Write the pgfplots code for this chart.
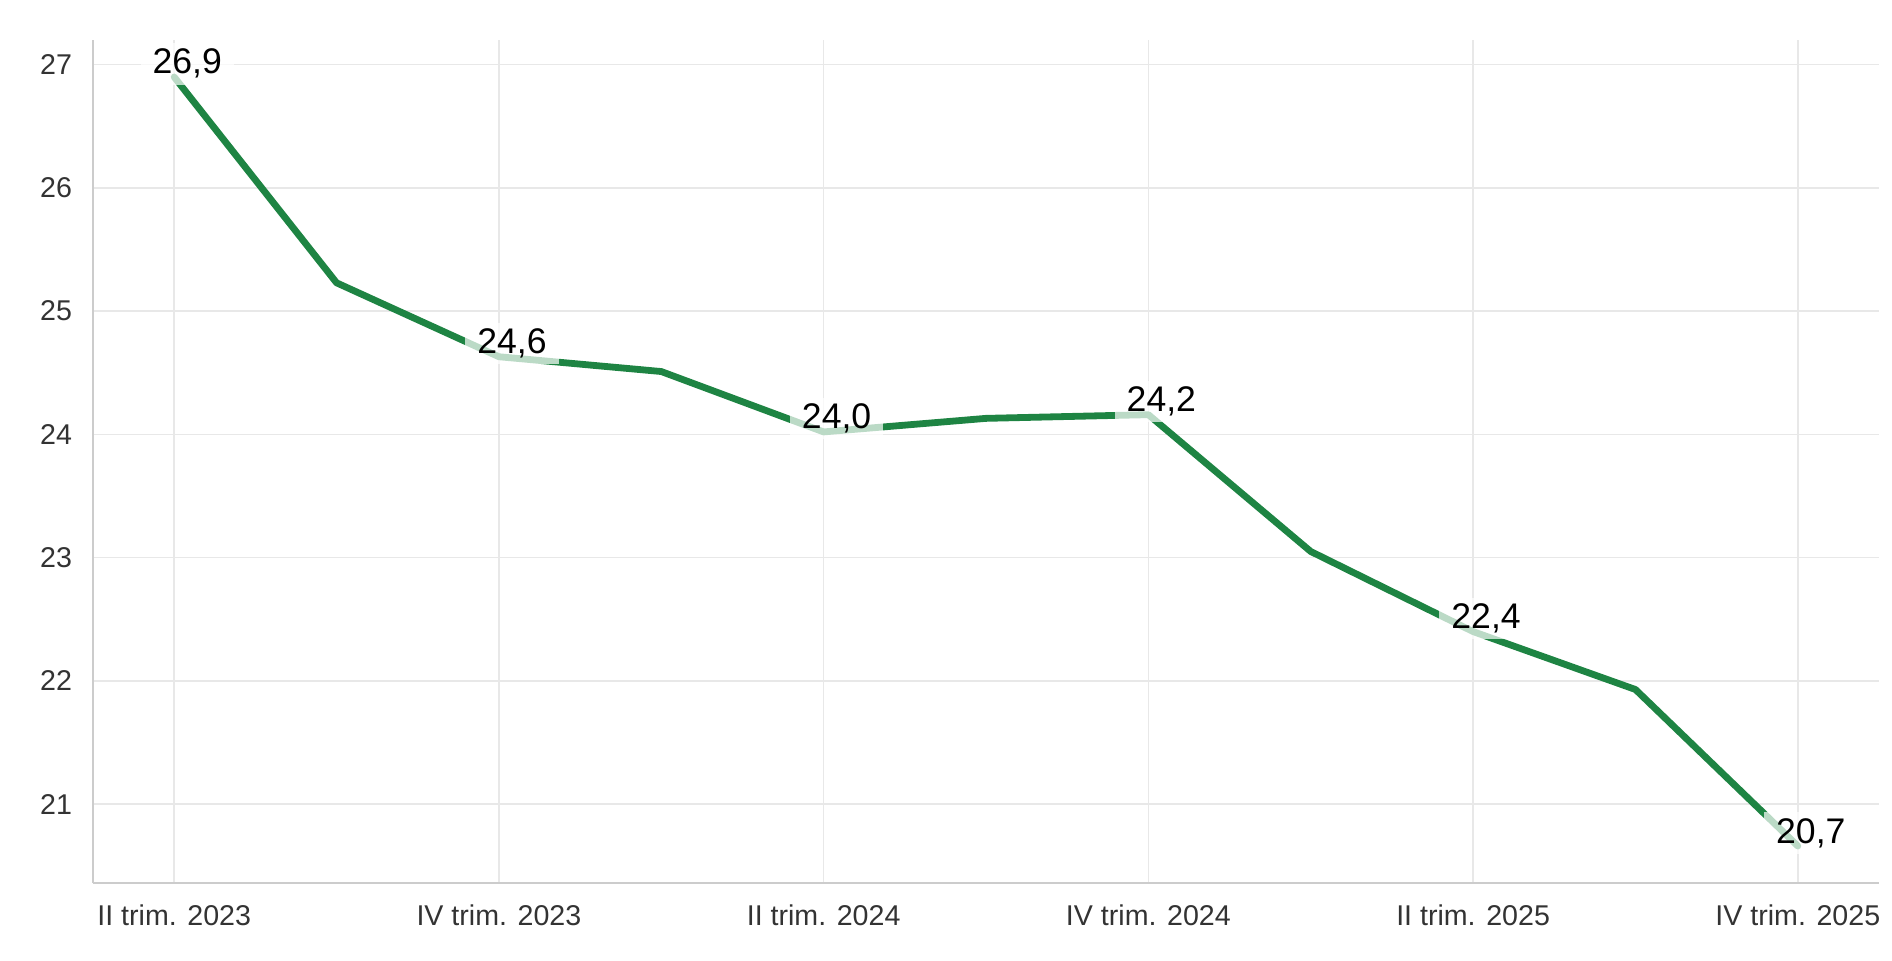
\documentclass[border=0pt]{standalone}
\usepackage{pgfplots}
\pgfplotsset{compat=1.18}
\usepackage{pgfplotstable}
\usepackage{fontspec}
\setmainfont{Liberation Sans}
\definecolor{lineg}{HTML}{1E8443}
\definecolor{gridc}{HTML}{E8E8E8}
\definecolor{axc}{HTML}{CCCCCC}
\definecolor{tickc}{HTML}{333333}

\pgfplotstableread{
x y
0 26.9
1 25.23
2 24.63
3 24.51
4 24.02
5 24.13
6 24.16
7 23.05
8 22.40
9 21.93
10 20.66
}\alldata

\pgfplotstableread{
x y lab
0 26.9 {26,9}
2 24.63 {24,6}
4 24.02 {24,0}
6 24.16 {24,2}
8 22.40 {22,4}
10 20.66 {20,7}
}\labdata

\begin{document}
\begin{tikzpicture}
\begin{axis}[
  name=ax,
  scale only axis,
  width=893pt, height=421.5pt,
  xmin=-0.5, xmax=10.5,
  ymin=20.36, ymax=27.2,
  xtick={0,2,...,10},
  xticklabels={II trim. 2023, IV trim. 2023, II trim. 2024, IV trim. 2024, II trim. 2025, IV trim. 2025},
  ytick={21,...,27},
  axis x line*=bottom, axis y line*=left,
  axis line style={axc, line width=1pt, -},
  major tick length=0pt,
  grid=major,
  major grid style={gridc, line width=0.8pt},
  /pgf/number format/assume math mode=true,
  tick label style={font=\fontsize{14.3}{17}\selectfont, text=tickc},
  yticklabel style={xshift=-7pt},
  xticklabel style={yshift=-7.5pt},
  clip=false,
]
\addplot[lineg, line width=3.4pt, line join=round, line cap=round] table[x=x,y=y] {\alldata};
\addplot[draw=none, mark=none,
  nodes near coords,
  point meta=explicit symbolic,
  every node near coord/.style={anchor=base, xshift=6.5pt, yshift=1.5pt,
    font=\fontsize{17.8}{20}\selectfont, text=black,
    fill=white, fill opacity=0.7, text opacity=1, inner xsep=6pt, inner ysep=3pt},
] table[x=x,y=y,meta=lab] {\labdata};
\end{axis}
\pgfresetboundingbox
\path ([xshift=-46.5pt,yshift=-38.5pt]ax.south west) rectangle ([xshift=6.5pt,yshift=20pt]ax.north east);
\end{tikzpicture}
\end{document}
